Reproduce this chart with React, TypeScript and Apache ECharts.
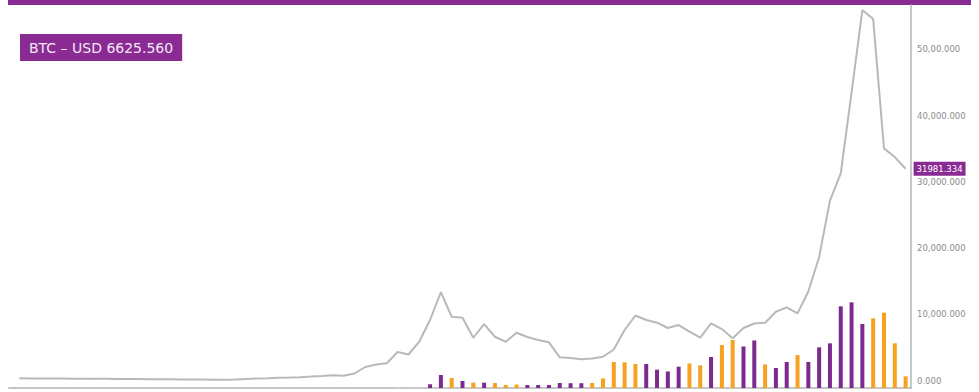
import React, { useEffect, useRef } from "react";
import * as echarts from "echarts";

// BTC price line (83 periods)
const price = [
  330, 320, 310, 300, 290, 280, 270, 260, 250, 240, 230, 220, 205, 190, 175, 160, 150, 140, 130, 130,
  150, 230, 300, 350, 410, 450, 500, 590, 690, 800, 710, 1060, 2040, 2420, 2600,
  4300, 3930, 5890, 9140, 13360, 9630, 9480, 6460, 8530, 6610, 5860, 7220, 6570, 6120, 5770,
  3500, 3400, 3200, 3320, 3590, 4680, 7630, 9820, 9140, 8730, 7930, 8380, 7400, 6490, 8640,
  7780, 6370, 7930, 8610, 8730, 10390, 11050, 10150, 13440, 18650, 27180, 31290, 43500, 55950, 54590,
  35060, 33750, 31981.334,
];

const categories = price.map((_, i) => String(i + 1));

// volume bars start at this period index
const volumeStart = 35;
const volume = [
  120, 120, 120, 560, 1950, 1500, 1050, 800, 800, 750, 450, 520, 450, 450, 450, 750, 720, 720, 750,
  1430, 3900, 3850, 3600, 3600, 2750, 2480, 3200, 3680, 3400, 4650, 6450, 7200, 6230, 7130, 3530,
  3000, 3900, 4950, 3900, 6100, 6700, 12250, 12850, 9600, 10450, 11300, 6700, 1750,
];
const volumeSide = [
  "g", "g", "g", "p", "p", "o", "p", "o", "p", "o", "o", "o", "p", "p", "p", "p", "p", "p", "o",
  "o", "o", "o", "o", "p", "p", "p", "p", "o", "o", "p", "o", "o", "p", "p", "o",
  "p", "p", "o", "p", "p", "p", "p", "p", "p", "o", "o", "o", "o",
];

const tickValues = [0, 10000, 20000, 30000, 40000, 50000];
const tickLabels = ["0.000", "10,000.000", "20,000.000", "30,000.000", "40,000.000", "50,00.000"];

const headerText = "BTC – USD 6625.560";
const lastPriceText = "31981.334";

const PURPLE = "#8a2a93";
const BAR_PURPLE = "#7b2a8e";
const BAR_ORANGE = "#f6a11f";
const BAR_GRAY = "#d6d6d6";

export default function App() {
  const ref = useRef<HTMLDivElement>(null);

  useEffect(() => {
    document.body.style.margin = "0";
    if (!ref.current) return;
    const chart = echarts.init(ref.current, undefined, { renderer: "svg" });

    const sideColor: Record<string, string> = { p: BAR_PURPLE, o: BAR_ORANGE, g: BAR_GRAY };
    const barData = categories.map((_, i) => {
      const k = i - volumeStart;
      if (k < 0 || k >= volume.length) return null;
      return { value: volume[k], itemStyle: { color: sideColor[volumeSide[k]] } };
    });

    chart.setOption({
      animation: false,
      backgroundColor: "#ffffff",
      title: {
        text: headerText,
        left: 20,
        top: 34,
        padding: [7, 9, 6, 9],
        backgroundColor: PURPLE,
        textStyle: {
          color: "#f4e8f7",
          fontFamily: "DejaVu Sans",
          fontSize: 14,
          fontWeight: "normal",
        },
      },
      graphic: [
        { type: "rect", shape: { x: 8, y: 0, width: 963, height: 5 }, style: { fill: PURPLE }, silent: true },
        { type: "line", shape: { x1: 8, y1: 388, x2: 15, y2: 388 }, style: { stroke: "#b4b4b4", lineWidth: 1.5 }, silent: true },
      ],
      grid: { left: 14, right: 68, top: 5, bottom: 4 },
      xAxis: {
        type: "category",
        data: categories,
        boundaryGap: true,
        axisLine: { show: true, onZero: false, lineStyle: { color: "#b4b4b4", width: 1.5 } },
        axisTick: { show: false },
        axisLabel: { show: false },
        splitLine: { show: false },
      },
      yAxis: [
        {
          type: "value",
          position: "right",
          min: -1130,
          max: 56720,
          axisLine: { show: true, lineStyle: { color: "#b4b4b4", width: 1.5 } },
          axisTick: { show: false },
          splitLine: { show: false },
          axisLabel: {
            customValues: tickValues,
            margin: 6,
            color: "#8c8c8c",
            fontFamily: "DejaVu Sans",
            fontSize: 8.5,
            formatter: (v: number) => {
              const idx = tickValues.indexOf(v);
              return idx >= 0 ? tickLabels[idx] : "";
            },
          },
        },
        {
          type: "value",
          min: 0,
          max: 57450,
          show: false,
          splitLine: { show: false },
        },
      ],
      series: [
        {
          type: "bar",
          yAxisIndex: 1,
          data: barData,
          barWidth: 4,
          z: 1,
        },
        {
          type: "line",
          data: price,
          symbol: "none",
          z: 2,
          lineStyle: { color: "#b9b9b9", width: 2 },
          endLabel: {
            show: true,
            formatter: () => lastPriceText,
            distance: 8,
            backgroundColor: PURPLE,
            color: "#ffffff",
            padding: [3, 3, 2, 3],
            fontFamily: "DejaVu Sans",
            fontSize: 8.5,
          },
        },
      ],
    });

    return () => chart.dispose();
  }, []);

  return <div ref={ref} style={{ width: 979, height: 392 }} />;
}
